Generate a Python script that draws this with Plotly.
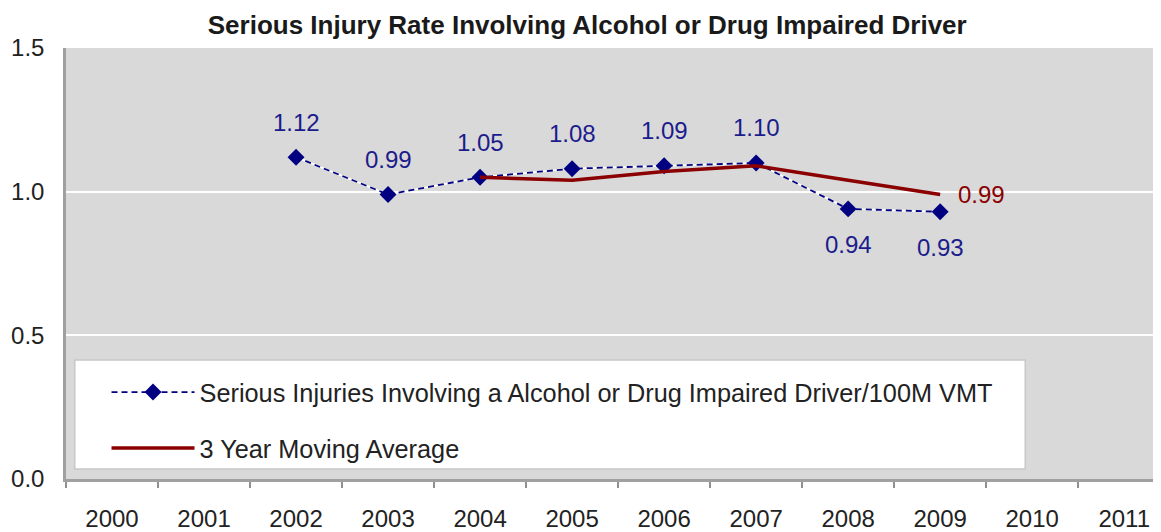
import plotly.graph_objects as go

years = [str(y) for y in range(2000, 2012)]

rate_years = ["2002", "2003", "2004", "2005", "2006", "2007", "2008", "2009"]
rate_values = [1.12, 0.99, 1.05, 1.08, 1.09, 1.10, 0.94, 0.93]
rate_labels = ["1.12", "0.99", "1.05", "1.08", "1.09", "1.10", "0.94", "0.93"]

avg_years = ["2004", "2005", "2006", "2007", "2008", "2009"]
avg_values = [1.05, 1.04, 1.07, 1.09, 1.04, 0.99]

NAVY = "#000080"
LABEL_BLUE = "#1c1c8c"
DARK_RED = "#8b0000"
FONT = "Liberation Sans, Arial, sans-serif"

fig = go.Figure()

# white underlay so the gaps in the dashed line read as white, like the original
fig.add_trace(go.Scatter(
    x=rate_years, y=rate_values, mode="lines",
    line=dict(color="white", width=1.8),
    showlegend=False, hoverinfo="skip",
))
fig.add_trace(go.Scatter(
    x=rate_years, y=rate_values, mode="lines+markers",
    name="Serious Injuries Involving a Alcohol or Drug Impaired Driver/100M VMT",
    line=dict(color=NAVY, width=1.8, dash="6px,4px"),
    marker=dict(symbol="diamond", size=13, color=NAVY),
    legendgroup="a",
))
fig.add_trace(go.Scatter(
    x=avg_years, y=avg_values, mode="lines",
    name="3 Year Moving Average",
    line=dict(color=DARK_RED, width=3.5),
    legendgroup="b",
))

# data labels (category index for x, numeric-looking names confuse annotations)
for x, y, t in zip(rate_years, rate_values, rate_labels):
    below = y < 0.96
    fig.add_annotation(
        x=years.index(x), y=y, text=t, showarrow=False,
        yshift=-36 if below else 35,
        font=dict(family=FONT, size=24, color=LABEL_BLUE),
    )
fig.add_annotation(
    x=years.index(avg_years[-1]), y=avg_values[-1], text=f"{avg_values[-1]:.2f}",
    showarrow=False, xanchor="left", xshift=16,
    font=dict(family=FONT, size=24, color=DARK_RED),
)

# legend box
fig.add_shape(
    type="rect", xref="paper", yref="paper",
    x0=0.008, x1=0.876, y0=0.023, y1=0.276,
    fillcolor="white", line=dict(color="#c8c8c8", width=1.5),
    layer="above",
)

# page body has an 8px margin, so the figure is 8px smaller than the window
fig.update_layout(
    width=1153, height=524,
    margin=dict(l=58, r=0, t=40, b=50),
    paper_bgcolor="white",
    plot_bgcolor="#d9d9d9",
    font=dict(family=FONT, size=24, color="#222222"),
    title=dict(
        text="<b>Serious Injury Rate Involving Alcohol or Drug Impaired Driver</b>",
        x=0.476, xref="paper", xanchor="center",
        y=0.9676, yref="container", yanchor="middle",
        font=dict(family=FONT, size=26, color="#1a1a1a"),
    ),
    showlegend=True,
    legend=dict(
        x=0.037, y=0.255, xanchor="left", yanchor="top",
        bgcolor="rgba(0,0,0,0)",
        font=dict(family=FONT, size=25.3, color="#222222"),
        tracegroupgap=20,
        itemwidth=83,
    ),
    xaxis=dict(
        type="category", categoryorder="array", categoryarray=years,
        range=[-0.5, 11.4],
        showgrid=False, zeroline=False,
        showline=True, linecolor="#a0a0a0", linewidth=2.5,
        ticks="outside", tickson="boundaries", ticklen=6, tickwidth=1.5, tickcolor="#909090",
        ticklabelstandoff=16,
        tickfont=dict(family=FONT, size=24, color="#222222"),
    ),
    yaxis=dict(
        range=[0, 1.5], tickvals=[0, 0.5, 1.0, 1.5], tickformat=".1f",
        showgrid=True, gridcolor="white", gridwidth=2,
        zeroline=False,
        showline=True, linecolor="#a0a0a0", linewidth=2.5,
        ticks="", ticklabelstandoff=14,
        tickfont=dict(family=FONT, size=24, color="#222222"),
    ),
)

fig.write_html("out.html")
